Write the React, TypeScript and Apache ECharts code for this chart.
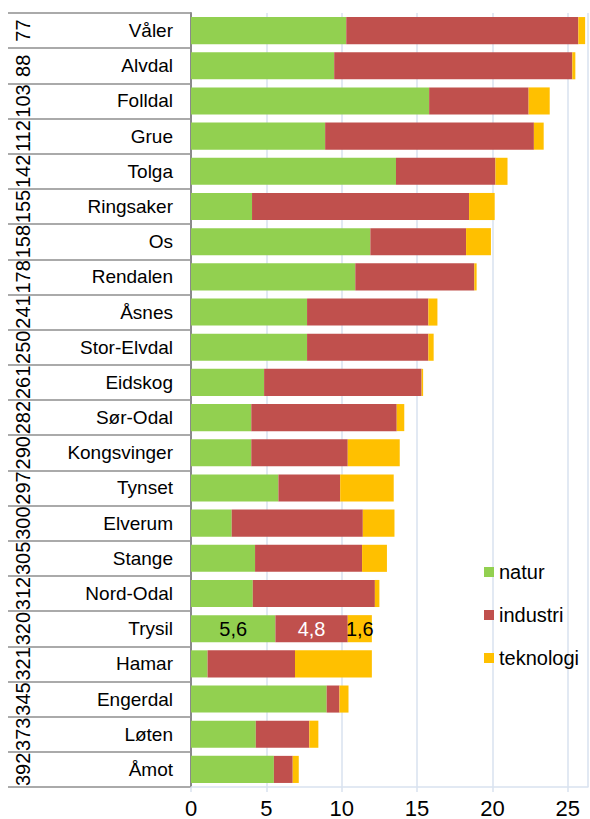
import React, { useEffect, useRef } from "react";
import * as echarts from "echarts";

const categories = ["Våler", "Alvdal", "Folldal", "Grue", "Tolga", "Ringsaker", "Os", "Rendalen", "Åsnes", "Stor-Elvdal", "Eidskog", "Sør-Odal", "Kongsvinger", "Tynset", "Elverum", "Stange", "Nord-Odal", "Trysil", "Hamar", "Engerdal", "Løten", "Åmot"];
const ranks = ["77", "88", "103", "112", "142", "155", "158", "178", "241", "250", "261", "282", "290", "297", "300", "305", "312", "320", "321", "345", "373", "392"];
const natur = [10.3, 9.5, 15.8, 8.9, 13.6, 4.05, 11.9, 10.9, 7.7, 7.7, 4.85, 4.0, 4.0, 5.8, 2.7, 4.25, 4.1, 5.6, 1.1, 9.0, 4.3, 5.5];
const industri = [15.4, 15.8, 6.6, 13.85, 6.6, 14.4, 6.35, 7.9, 8.05, 8.05, 10.45, 9.65, 6.4, 4.1, 8.7, 7.1, 8.1, 4.8, 5.8, 0.85, 3.55, 1.25];
const teknologi = [0.45, 0.2, 1.4, 0.65, 0.8, 1.7, 1.65, 0.15, 0.6, 0.35, 0.1, 0.5, 3.45, 3.55, 2.1, 1.65, 0.3, 1.6, 5.1, 0.6, 0.6, 0.4];
const xTicks = { min: 0, max: 26.34, interval: 5 };
const labeledCategories = ["Trysil"];

const FONT = "'Liberation Sans', Arial, sans-serif";
const GRID_BLUE = "#D9E2EF";

function withLabels(values: number[]) {
  return values.map((v, i) =>
    labeledCategories.includes(categories[i]) ? { value: v, label: { show: true } } : v
  );
}

function makeSeries(name: string, values: number[], color: string, labelColor: string) {
  return {
    name,
    type: "bar",
    stack: "total",
    barCategoryGap: "23%",
    itemStyle: { color },
    label: {
      show: false,
      position: "inside",
      color: labelColor,
      fontSize: 20,
      fontFamily: FONT,
      formatter: (p: any) => String(p.value).replace(".", ","),
    },
    data: withLabels(values),
  };
}

export default function App() {
  const ref = useRef<HTMLDivElement>(null);
  useEffect(() => {
    if (!ref.current) return;
    const chart = echarts.init(ref.current, undefined, { renderer: "svg" });
    chart.setOption({
      animation: false,
      textStyle: { fontFamily: FONT },
      grid: { left: 191, right: 2, top: 13, bottom: 32, containLabel: false },
      legend: {
        orient: "vertical",
        left: 479,
        top: 557,
        itemWidth: 10,
        itemHeight: 10,
        itemGap: 23,
        icon: "rect",
        textStyle: { fontSize: 20, lineHeight: 20, color: "#000", fontFamily: FONT },
        data: ["natur", "industri", "teknologi"],
      },
      xAxis: {
        type: "value",
        min: xTicks.min,
        max: xTicks.max,
        interval: xTicks.interval,
        axisLine: { show: true, lineStyle: { color: GRID_BLUE, width: 1.5 } },
        axisTick: { show: true, length: 5, lineStyle: { color: GRID_BLUE, width: 1.5 } },
        splitLine: { show: true, lineStyle: { color: GRID_BLUE, width: 1.5 } },
        axisLabel: { fontSize: 22, color: "#000", margin: 10, showMaxLabel: false, fontFamily: FONT },
      },
      yAxis: [
        {
          type: "category",
          data: categories,
          inverse: true,
          position: "left",
          axisLine: { show: true, lineStyle: { color: "#8a8a8a", width: 2 } },
          axisTick: { show: true, length: 183, lineStyle: { color: "#8e8e8e", width: 1.5 } },
          axisLabel: { interval: 0, fontSize: 19, margin: 18, color: "#000", fontFamily: FONT },
        },
        {
          type: "category",
          data: ranks,
          inverse: true,
          position: "left",
          offset: 168,
          axisLine: { show: false },
          axisTick: { show: false },
          axisLabel: {
            interval: 0,
            rotate: 90,
            margin: 0,
            align: "center",
            verticalAlign: "middle",
            fontSize: 20,
            color: "#000",
            fontFamily: FONT,
          },
        },
      ],
      series: [
        makeSeries("natur", natur, "#92D050", "#000"),
        makeSeries("industri", industri, "#C0504D", "#fff"),
        makeSeries("teknologi", teknologi, "#FFC000", "#000"),
      ],
    });
    return () => chart.dispose();
  }, []);
  return (
    <div
      ref={ref}
      style={{ position: "absolute", left: 0, top: 0, width: 590, height: 819 }}
    />
  );
}
